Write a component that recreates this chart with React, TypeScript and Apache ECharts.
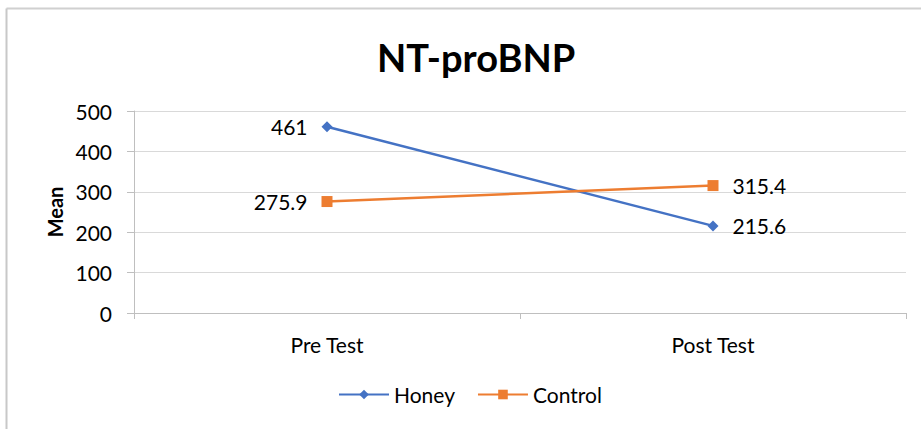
import React, { useEffect, useRef } from "react";
import * as echarts from "echarts";

const categories = ["Pre Test", "Post Test"];
const honey = [461, 215.6];
const control = [275.9, 315.4];
const yTicks = [0, 100, 200, 300, 400, 500];

const FONT = "Lato, 'Open Sans', sans-serif";

export default function App() {
  const ref = useRef<HTMLDivElement>(null);
  useEffect(() => {
    if (!ref.current) return;
    const chart = echarts.init(ref.current, null, { renderer: "svg" });
    const mkData = (vals: number[]) =>
      vals.map((v, i) => ({
        value: v,
        label: { position: i === 0 ? "left" : "right" },
      }));
    chart.setOption({
      animation: false,
      backgroundColor: "#ffffff",
      title: {
        text: "NT-proBNP",
        left: 372,
        top: 33,
        textStyle: { fontFamily: FONT, fontSize: 38, fontWeight: "bold", color: "#000" },
      },
      graphic: [
        { type: "line", shape: { x1: 6.5, y1: 8.5, x2: 921, y2: 8.5 }, style: { stroke: "#d0d0d0", lineWidth: 2 } },
        { type: "line", shape: { x1: 6.5, y1: 8.5, x2: 6.5, y2: 429 }, style: { stroke: "#c8c8c8", lineWidth: 2 } },
      ],
      grid: { left: 134, right: 15, top: 111, bottom: 116, containLabel: false },
      legend: {
        bottom: 19,
        left: 333,
        itemWidth: 50,
        itemHeight: 12,
        itemGap: 22,
        textStyle: { fontFamily: FONT, fontSize: 21, color: "#000" },
        data: ["Honey", "Control"],
      },
      xAxis: {
        type: "category",
        data: categories,
        boundaryGap: true,
        axisLine: { lineStyle: { color: "#bfbfbf", width: 1 } },
        axisTick: { show: true, length: 6, lineStyle: { color: "#bfbfbf" } },
        axisLabel: { fontFamily: FONT, fontSize: 21, color: "#000", margin: 21 },
      },
      yAxis: {
        type: "value",
        min: yTicks[0],
        max: yTicks[yTicks.length - 1],
        interval: 100,
        name: "Mean",
        nameLocation: "middle",
        nameGap: 68,
        nameTextStyle: { fontFamily: FONT, fontSize: 20, fontWeight: "bold", color: "#000" },
        axisLine: { show: true, lineStyle: { color: "#bfbfbf" } },
        axisTick: { show: true, length: 7, lineStyle: { color: "#bfbfbf" } },
        axisLabel: { fontFamily: FONT, fontSize: 21, color: "#000", margin: 22 },
        splitLine: { lineStyle: { color: "#d9d9d9" } },
      },
      series: [
        {
          name: "Honey",
          type: "line",
          data: mkData(honey),
          symbol: "diamond",
          symbolSize: 11,
          color: "#4472C4",
          lineStyle: { width: 2.5, color: "#4472C4" },
          label: { show: true, distance: 14, fontFamily: FONT, fontSize: 21, color: "#000" },
        },
        {
          name: "Control",
          type: "line",
          data: mkData(control),
          symbol: "rect",
          symbolSize: 11,
          color: "#ED7D31",
          lineStyle: { width: 2.5, color: "#ED7D31" },
          label: { show: true, distance: 14, fontFamily: FONT, fontSize: 21, color: "#000" },
        },
      ],
    });
    return () => chart.dispose();
  }, []);
  return (
    <div
      ref={ref}
      style={{ position: "fixed", left: 0, top: 0, width: 921, height: 429 }}
    />
  );
}
